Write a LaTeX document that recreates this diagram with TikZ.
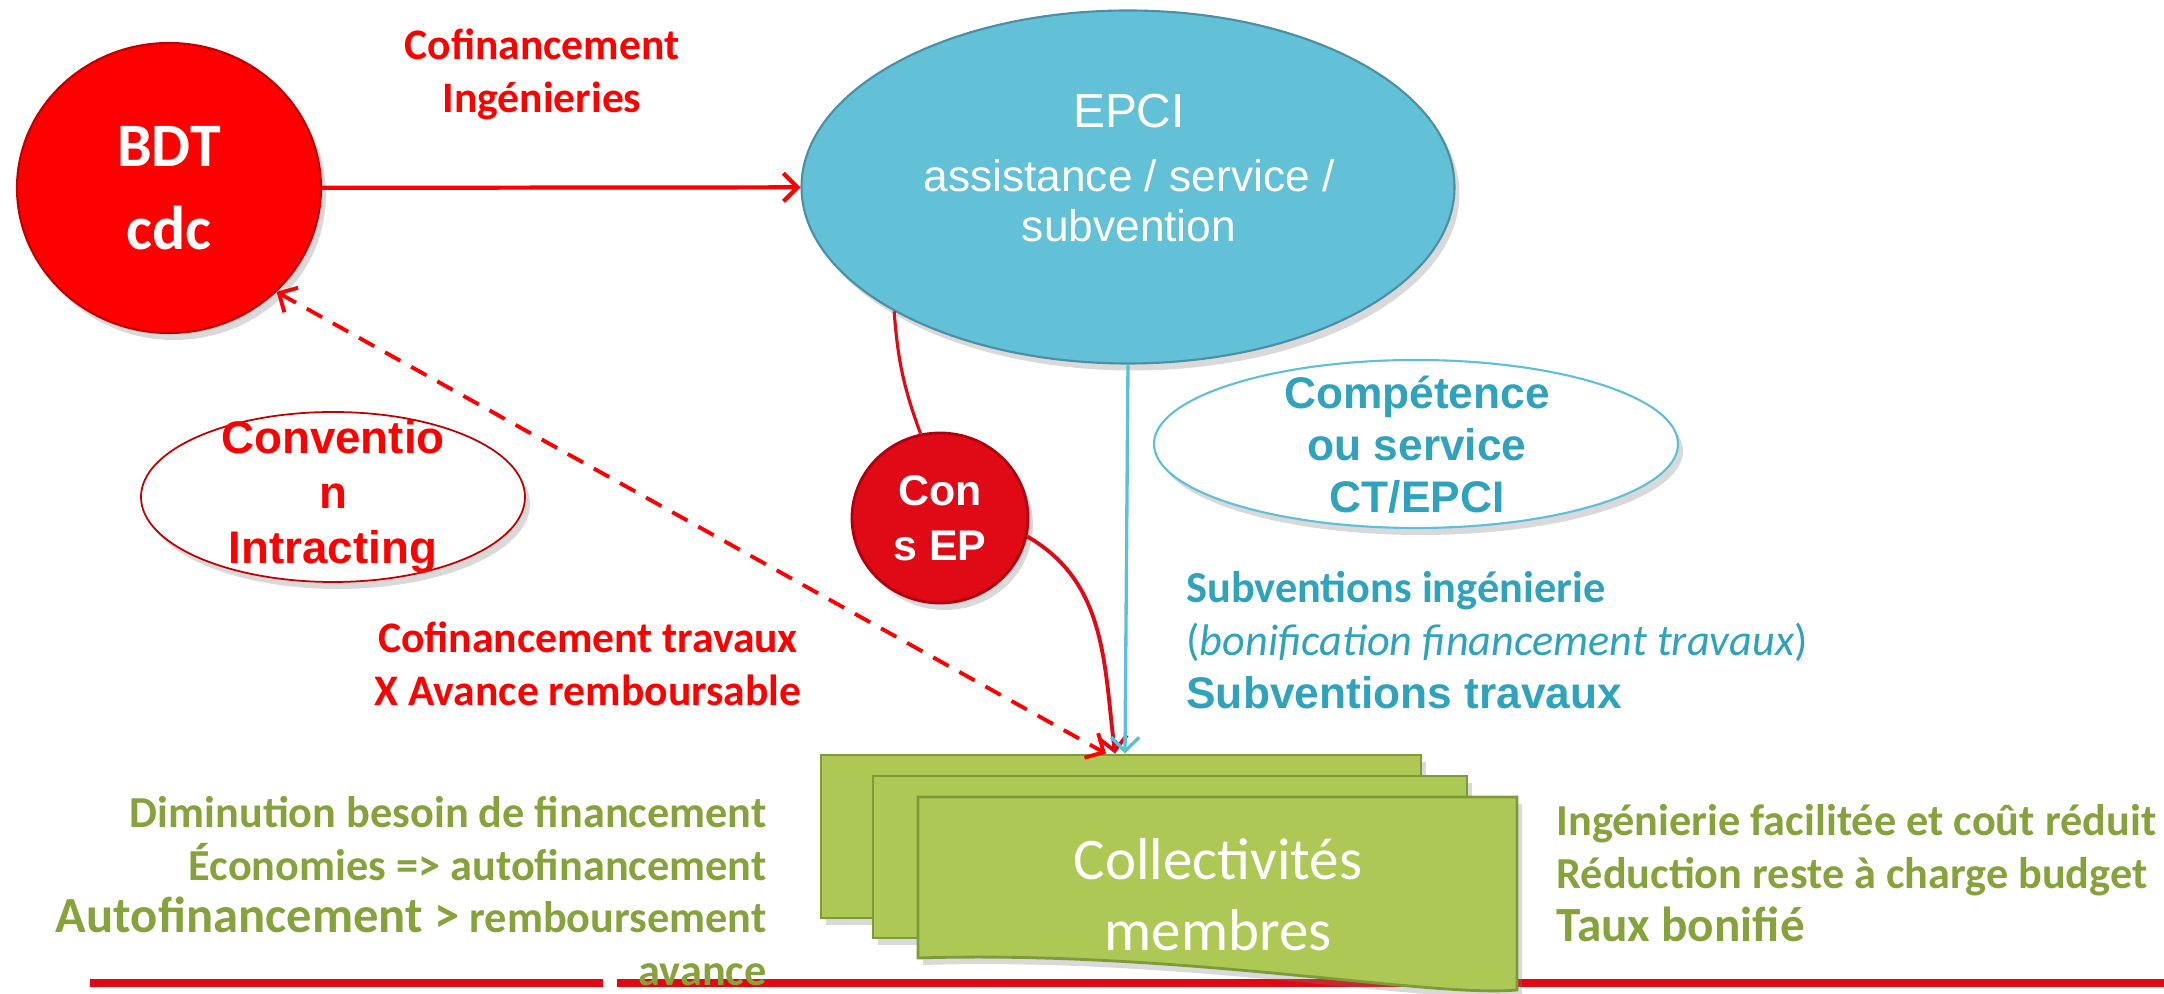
\documentclass[tikz,border=0pt]{standalone}
\usepackage{fontspec}
\setmainfont{Carlito}
\newfontfamily\arialfont{Liberation Sans}
\usetikzlibrary{shapes.geometric,shadows,arrows.meta}

\definecolor{bdtedge}{HTML}{C00000}
\definecolor{consred}{HTML}{E00A17}
\definecolor{consedge}{HTML}{B0000E}
\definecolor{epcifill}{HTML}{62C0D7}
\definecolor{epciedge}{HTML}{4A8FA3}
\definecolor{tealtext}{HTML}{2FA3BE}
\definecolor{linkblue}{HTML}{5CC0DA}
\definecolor{olivetext}{HTML}{86A33B}
\definecolor{boxfill}{HTML}{ADC855}
\definecolor{boxedge}{HTML}{7E9B3A}
\definecolor{barred}{HTML}{E30613}

\begin{document}
\begin{tikzpicture}[
        >={Straight Barb[length=4pt,width=8pt]},
        bubble/.style={ellipse, inner sep=0pt, drop shadow={opacity=0.3, shadow xshift=0.05cm, shadow yshift=-0.07cm}},
        redtxt/.style={text=red, align=center, font=\bfseries\fontsize{12.4}{15}\selectfont},
        olivetxt/.style={text=olivetext, font=\bfseries\fontsize{12.6}{15}\selectfont},
        collbox/.style={fill=boxfill, draw=boxedge, line width=0.8pt, drop shadow={opacity=0.3, shadow xshift=0.05cm, shadow yshift=-0.07cm}}
    ]
                \useasboundingbox (0, 0) rectangle (21.64, -9.94);
                % bottom rule
                \draw[barred, line width=2.1pt] (0.90, -9.83) -- (6.03, -9.83);
                \draw[barred, line width=2.1pt] (6.17, -9.83) -- (21.64, -9.83);

                \node(bdt_c) at(1.69, -1.88) [bubble, fill=red, draw=bdtedge, line width=0.6pt, minimum width=3.04cm, minimum height=2.90cm, text=white, align=center, font=\bfseries\fontsize{17.6}{23.5}\selectfont] {BDT\\cdc};
                \node(epci_c) at(11.28, -1.87) [bubble, fill=epcifill, draw=epciedge, line width=0.6pt, minimum width=6.53cm, minimum height=3.53cm] {};
                \node(epci_t) at(11.29, -1.68) [text=white, align=center, font=\arialfont\fontsize{12.6}{14.3}\selectfont] {{\fontsize{13.6}{14.3}\selectfont EPCI}\\[4pt]assistance / service /\\subvention};
                \node(conv_i) at(3.33, -4.97) [bubble, fill=white, draw=bdtedge, line width=0.5pt, minimum width=3.84cm, minimum height=1.70cm] {};
                \node(conv_t) at(3.33, -4.97) [text=red, align=center, font=\arialfont\bfseries\fontsize{13}{15.6}\selectfont] {Conventio\\n\\Intracting};
                \node(cons_ep) at(9.40, -5.18) [bubble, fill=consred, draw=consedge, line width=0.8pt, minimum width=1.76cm, minimum height=1.70cm, text=white, align=center, font=\arialfont\bfseries\fontsize{12.2}{15.6}\selectfont] {Con\\s EP};
                \node(comp_s) at(14.16, -4.44) [bubble, fill=white, draw=linkblue, line width=0.6pt, minimum width=5.24cm, minimum height=1.68cm] {};
                \node(comp_t) at(14.17, -4.45) [text=tealtext, align=center, font=\arialfont\bfseries\fontsize{12.6}{14.8}\selectfont] {Compétence\\ou service\\CT/EPCI};

                % stacked documents
                \node(coll_a) at(11.21, -8.365) [collbox, minimum width=6.00cm, minimum height=1.63cm] {};
                \node(coll_b) at(11.70, -8.57) [collbox, minimum width=5.94cm, minimum height=1.62cm] {};
                \draw[collbox] (9.18, -7.97) -- (15.17, -7.97) -- (15.17, -9.90) .. controls (14.3, -9.98) and (11.8, -9.5) .. (9.18, -9.58) -- cycle;
                \node(coll_c) at(12.18, -8.95) [text=white, align=center, font=\fontsize{16.8}{20.2}\selectfont] {Collectivités\\membres};

                \node(cof_ing) at(5.42, -0.745) [redtxt] {Cofinancement\\Ingénieries};
                \node(cof_trav) at(5.88, -6.64) [redtxt] {Cofinancement travaux\\X Avance remboursable};
                \node(subv_t) at(11.74, -6.40) [anchor=west, text=tealtext, align=left, font=\fontsize{12.6}{15}\selectfont] {\textbf{Subventions ingénierie}\\(\textit{bonification financement travaux})\\{\arialfont\bfseries Subventions travaux}};
                \node(gain_l) at(7.79, -8.91) [olivetxt, anchor=east, align=right] {Diminution besoin de financement\\Économies => autofinancement\\{\fontsize{14.4}{15}\selectfont Autofinancement >} remboursement\\avance};
                \node(gain_r) at(15.44, -8.73) [olivetxt, anchor=west, align=left] {Ingénierie facilitée et coût réduit\\Réduction reste à charge budget\\{\fontsize{14}{15}\selectfont Taux bonifié}};

                \draw[line width=1.2pt, red]
                    [->] (bdt_c) -- (epci_c);
                \draw[line width=0.9pt, consred]
                    (epci_c.208) to[bend right=8] (cons_ep.103);
                \draw[line width=1.1pt, consred]
                    [->] (cons_ep.-12) to[out=-30, in=97] ([xshift=-0.06cm]coll_a.north);
                \draw[line width=1.1pt, red, dash pattern=on 5pt off 3.5pt]
                    [<->] (bdt_c.-44) -- ([xshift=-0.15cm]coll_a.north);
                \draw[line width=0.95pt, linkblue]
                    [->] (epci_c.south) -- ([xshift=0.04cm]coll_a.north);
            \end{tikzpicture}
\end{document}
